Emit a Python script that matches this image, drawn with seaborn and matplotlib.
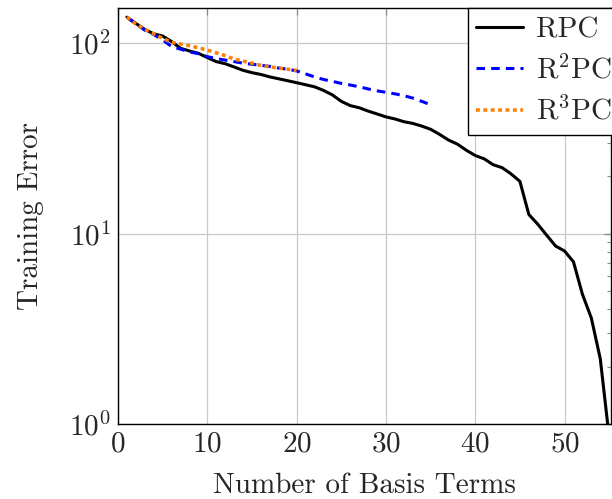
import numpy as np
import pandas as pd
import matplotlib
matplotlib.use("Agg")
import matplotlib.pyplot as plt
import seaborn as sns
from matplotlib.ticker import LogLocator, NullFormatter

# Training error versus number of basis terms for three methods
rpc_terms = list(range(1, 56))
rpc_error = [137, 127, 118, 112, 109, 102, 94, 91, 88.5, 84,
             80, 78, 75, 72, 70, 68.5, 66.5, 65, 63.5, 62,
             60.5, 59, 56.5, 53.5, 49.5, 47, 45.8, 44, 42.5, 41,
             40, 38.7, 37.9, 36.7, 35.3, 33.2, 31, 29.5, 27.4, 25.7,
             24.7, 23, 22.2, 20.6, 18.8, 12.6, 11.2, 9.8, 8.6, 8.1,
             7.1, 4.8, 3.6, 2.2, 0.85]

r2pc_terms = list(range(1, 36))
r2pc_error = [137, 126, 117, 111, 104, 96, 93, 90, 88, 85,
              83, 81.5, 80, 78.5, 77.5, 76.5, 75.5, 74, 73, 71.5,
              69, 66.5, 64.5, 63, 61.5, 60.3, 59, 57.5, 56.2, 55.2,
              54.2, 53, 51.5, 49.5, 47.5]

r3pc_terms = list(range(1, 21))
r3pc_error = [137, 126, 118, 112, 106, 101, 99, 97, 94.5, 92,
              89, 86, 82.5, 80.5, 78.5, 76.5, 75, 74, 73, 72]

labels = ["RPC", r"R$^2$PC", r"R$^3$PC"]
x_ticks = [0, 10, 20, 30, 40, 50]

sns.set_style("white")
plt.rcParams["font.family"] = ["cmr10", "DejaVu Serif"]
plt.rcParams["mathtext.fontset"] = "cm"
plt.rcParams["axes.formatter.use_mathtext"] = True
FS = 21
plt.rcParams["font.size"] = FS

fig = plt.figure(figsize=(6.12, 4.99), dpi=100)
ax = fig.add_axes([118 / 612, 75 / 499, 493 / 612, 416 / 499])

df_rpc = pd.DataFrame({"terms": rpc_terms, "error": rpc_error})
df_r2 = pd.DataFrame({"terms": r2pc_terms, "error": r2pc_error})
df_r3 = pd.DataFrame({"terms": r3pc_terms, "error": r3pc_error})

lw = 2.2
sns.lineplot(data=df_rpc, x="terms", y="error", ax=ax, color="black",
             linewidth=lw, label=labels[0], zorder=3)
sns.lineplot(data=df_r2, x="terms", y="error", ax=ax, color="#0000ff",
             linewidth=lw, label=labels[1], zorder=4)
sns.lineplot(data=df_r3, x="terms", y="error", ax=ax, color="#ff8000",
             linewidth=lw * 1.15, label=labels[2], zorder=5)

lines = ax.get_lines()
lines[1].set_dashes((2.8, 2.0))
lines[2].set_dashes((1.1, 1.0))
for ln in lines:
    ln.set_dash_capstyle("butt")
    ln.set_solid_joinstyle("round")

ax.set_yscale("log")
ax.set_xlim(0, 55.2)
ax.set_ylim(1, 153)
ax.set_xticks(x_ticks)
ax.yaxis.set_major_locator(LogLocator(base=10, numticks=10))
ax.yaxis.set_minor_locator(LogLocator(base=10, subs=np.arange(2, 10), numticks=10))
ax.yaxis.set_minor_formatter(NullFormatter())

ax.grid(True, which="major", color="#c8c8c8", linewidth=0.9)
ax.grid(False, which="minor")
ax.tick_params(axis="both", which="major", direction="in", length=5,
               color="#888888", width=0.9, labelsize=FS, pad=5,
               top=True, right=True)
ax.tick_params(axis="y", which="minor", direction="in", length=3,
               color="#888888", width=0.8, right=True)
for sp in ax.spines.values():
    sp.set_color("black")
    sp.set_linewidth(1.0)

ax.set_xlabel("Number of Basis Terms", fontsize=FS, labelpad=11)
ax.set_ylabel("Training Error", fontsize=FS, labelpad=18)

leg = ax.legend(loc="upper right", bbox_to_anchor=(1 + 10 / 493, 1),
                frameon=True, fancybox=False,
                edgecolor="black", framealpha=1, fontsize=FS,
                handlelength=1.6, handletextpad=0.45, labelspacing=0.42,
                borderpad=0.3, borderaxespad=0.0)
leg.get_frame().set_linewidth(1.0)

fig.savefig("out.png", dpi=100)
